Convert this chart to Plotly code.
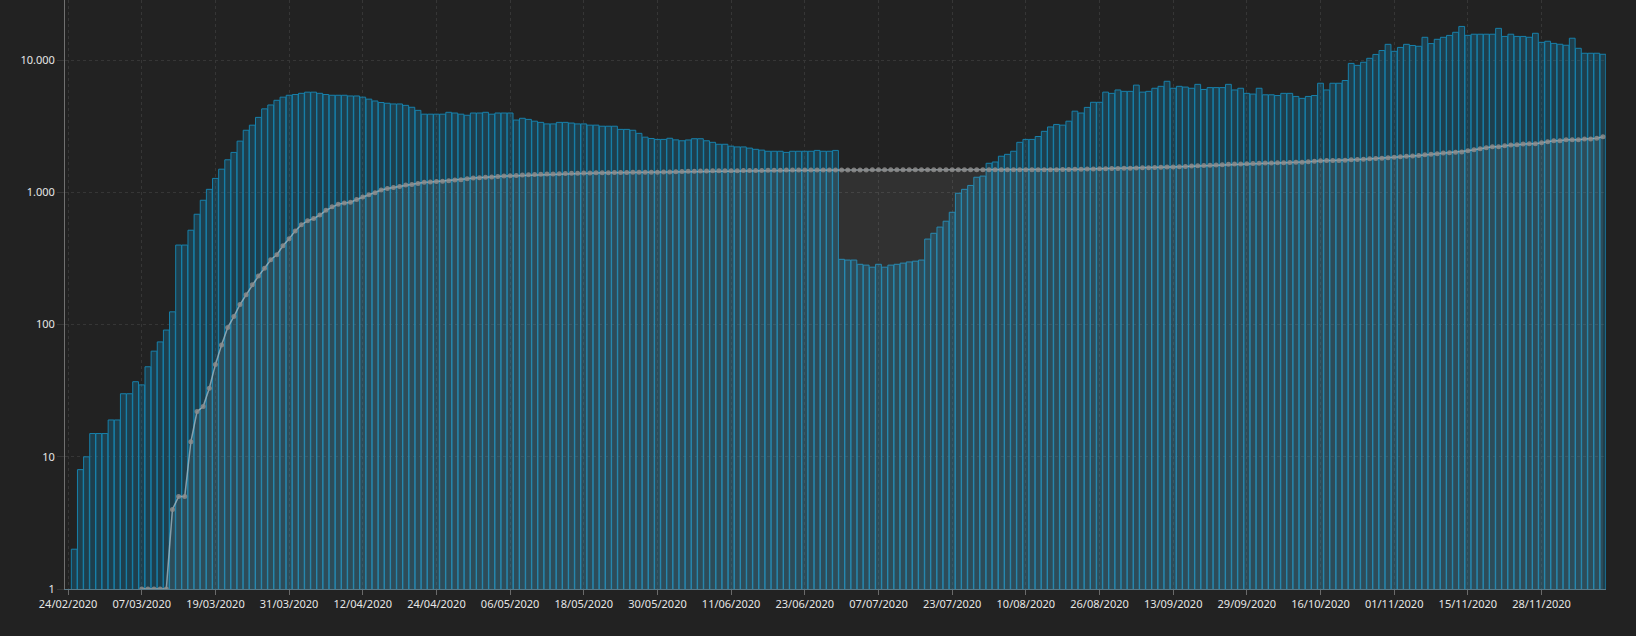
import plotly.graph_objects as go

# bar series (one value per category, category 0 = 24/02/2020)
bar_values = [
    None, 2, 8, 10, 15, 15, 15, 19, 19, 30, 30, 37, 35, 48, 63, 74, 91, 125, 400, 400,
    518, 684, 873, 1056, 1277, 1500, 1766, 2009, 2445, 2955, 3228, 3698, 4290, 4590, 4980, 5260, 5436, 5510, 5623, 5738,
    5738, 5623, 5510, 5436, 5436, 5436, 5370, 5370, 5260, 5080, 4920, 4790, 4730, 4670, 4670, 4560, 4410, 4180, 3910, 3910,
    3910, 3910, 4040, 3990, 3910, 3836, 3990, 3990, 4040, 3910, 3990, 3990, 3990, 3530, 3640, 3570, 3460, 3390, 3300, 3300,
    3390, 3390, 3350, 3300, 3300, 3230, 3230, 3170, 3170, 3170, 3000, 3000, 2955, 2800, 2620, 2560, 2520, 2520, 2570, 2500,
    2460, 2495, 2550, 2550, 2460, 2395, 2315, 2315, 2240, 2210, 2210, 2165, 2120, 2090, 2050, 2050, 2050, 2010, 2050, 2050,
    2050, 2050, 2080, 2050, 2050, 2080, 312, 308, 308, 286, 282, 272, 286, 272, 282, 286, 292, 298, 302, 308,
    444, 491, 547, 606, 708, 986, 1056, 1130, 1303, 1330, 1662, 1700, 1880, 1943, 2050, 2395, 2520, 2520, 2650, 2900,
    3130, 3270, 3230, 3460, 4120, 3990, 4400, 4810, 4810, 5740, 5620, 5960, 5820, 5820, 6485, 5740, 5820, 6140, 6350, 6935,
    6140, 6350, 6270, 6140, 6575, 6015, 6210, 6210, 6210, 6575, 5960, 6140, 5620, 5550, 6140, 5480, 5480, 5410, 5620, 5620,
    5325, 5150, 5325, 5410, 6700, 5960, 6700, 6700, 7030, 9470, 9150, 9660, 10350, 11070, 11850, 13200, 11690, 12510, 13200, 12940,
    12760, 14920, 13370, 14410, 14920, 15420, 16280, 18030, 15440, 15740, 15740, 15740, 15740, 17440, 15150, 15740, 15150, 15150, 14930, 16000,
    13670, 13930, 13420, 13220, 12990, 14680, 12320, 11300, 11300, 11300, 11100,
]

# line series (same categories)
line_values = [
    None, None, None, None, None, None, None, None, None, None, None, None, 1, 1, 1, 1, 1, 4, 5, 5,
    13, 22, 24, 33, 50, 70, 95, 115, 142, 168, 200, 233, 267, 310, 338, 395, 447, 512, 570, 610,
    635, 675, 732, 778, 816, 833, 842, 885, 922, 960, 993, 1042, 1070, 1090, 1110, 1137, 1150, 1170, 1192, 1200,
    1210, 1218, 1226, 1242, 1250, 1268, 1285, 1290, 1303, 1310, 1318, 1330, 1335, 1343, 1357, 1360, 1365, 1372, 1380, 1382,
    1388, 1390, 1395, 1398, 1403, 1405, 1407, 1410, 1412, 1414, 1416, 1418, 1419, 1420, 1421, 1421, 1422, 1425, 1430, 1436,
    1441, 1446, 1450, 1453, 1455, 1457, 1459, 1460, 1461, 1462, 1463, 1465, 1467, 1469, 1470, 1472, 1474, 1476, 1478, 1480,
    1481, 1481, 1481, 1481, 1481, 1481, 1481, 1481, 1481, 1481, 1481, 1482, 1482, 1482, 1482, 1482, 1482, 1482, 1482, 1482,
    1482, 1482, 1482, 1482, 1482, 1482, 1482, 1482, 1482, 1482, 1482, 1483, 1483, 1483, 1483, 1483, 1483, 1483, 1483, 1483,
    1483, 1486, 1490, 1493, 1497, 1500, 1503, 1506, 1510, 1513, 1517, 1521, 1524, 1527, 1530, 1535, 1540, 1545, 1550, 1555,
    1560, 1567, 1575, 1582, 1590, 1597, 1605, 1614, 1622, 1631, 1640, 1645, 1651, 1657, 1663, 1667, 1670, 1675, 1680, 1685,
    1689, 1693, 1710, 1725, 1740, 1742, 1744, 1746, 1755, 1765, 1775, 1785, 1795, 1805, 1815, 1830, 1845, 1860, 1875, 1890,
    1905, 1925, 1945, 1965, 1985, 2000, 2015, 2025, 2070, 2105, 2140, 2180, 2220, 2220, 2260, 2290, 2300, 2330, 2340, 2340,
    2380, 2420, 2460, 2460, 2500, 2500, 2500, 2540, 2540, 2570, 2640,
]

categories = list(range(len(bar_values)))

tick_positions = [0, 12, 24, 36, 48, 60, 72, 84, 96, 108, 120, 132, 144, 156, 168, 180, 192, 204, 216, 228, 240]
tick_labels = [
    "24/02/2020", "07/03/2020", "19/03/2020", "31/03/2020", "12/04/2020", "24/04/2020", "06/05/2020",
    "18/05/2020", "30/05/2020", "11/06/2020", "23/06/2020", "07/07/2020", "23/07/2020", "10/08/2020",
    "26/08/2020", "13/09/2020", "29/09/2020", "16/10/2020", "01/11/2020", "15/11/2020", "28/11/2020",
]

y_tick_values = [1, 10, 100, 1000, 10000]
y_tick_labels = ["1", "10", "100", "1.000", "10.000"]

BG = "#222222"
GRID = "#363636"

fig = go.Figure()
fig.add_trace(go.Bar(
    x=categories, y=bar_values,
    marker=dict(color="rgba(22,124,168,0.32)", line=dict(color="#1780ab", width=1)),
    showlegend=False,
))
fig.add_trace(go.Scatter(
    x=categories, y=line_values, mode="lines+markers",
    line=dict(color="rgba(175,195,205,0.7)", width=1.5),
    marker=dict(color="rgba(140,140,140,0.85)", size=5),
    fill="tozeroy", fillcolor="rgba(255,255,255,0.07)",
    connectgaps=False, showlegend=False,
))

fig.update_layout(
    width=1636, height=636,
    margin=dict(l=65, r=30, t=0, b=47),
    paper_bgcolor=BG, plot_bgcolor=BG,
    bargap=0.06,
    font=dict(family="Noto Sans, Open Sans, sans-serif", size=11, color="#e6e6e6"),
    xaxis=dict(
        range=[-0.5, len(bar_values) - 0.5],
        tickmode="array", tickvals=tick_positions, ticktext=tick_labels,
        showgrid=True, gridcolor=GRID, griddash="3px,3px", gridwidth=1,
        showline=True, linecolor="#5b7a88", linewidth=1,
        ticks="outside", ticklen=5, tickcolor="#6a6a6a",
        zeroline=False, tickfont=dict(size=11, color="#e6e6e6"),
    ),
    yaxis=dict(
        type="log", range=[0, 4.456],
        tickmode="array", tickvals=y_tick_values, ticktext=y_tick_labels,
        showgrid=True, gridcolor=GRID, griddash="3px,3px", gridwidth=1,
        showline=True, linecolor="#707070", linewidth=1,
        ticks="outside", ticklen=7, tickcolor="#363636",
        zeroline=False, tickfont=dict(size=11, color="#e6e6e6"),
    ),
)

fig.write_html(
    "out.html",
    config={"displayModeBar": False},
    post_script="document.body.style.margin='0';document.body.style.background='#222222';",
)
